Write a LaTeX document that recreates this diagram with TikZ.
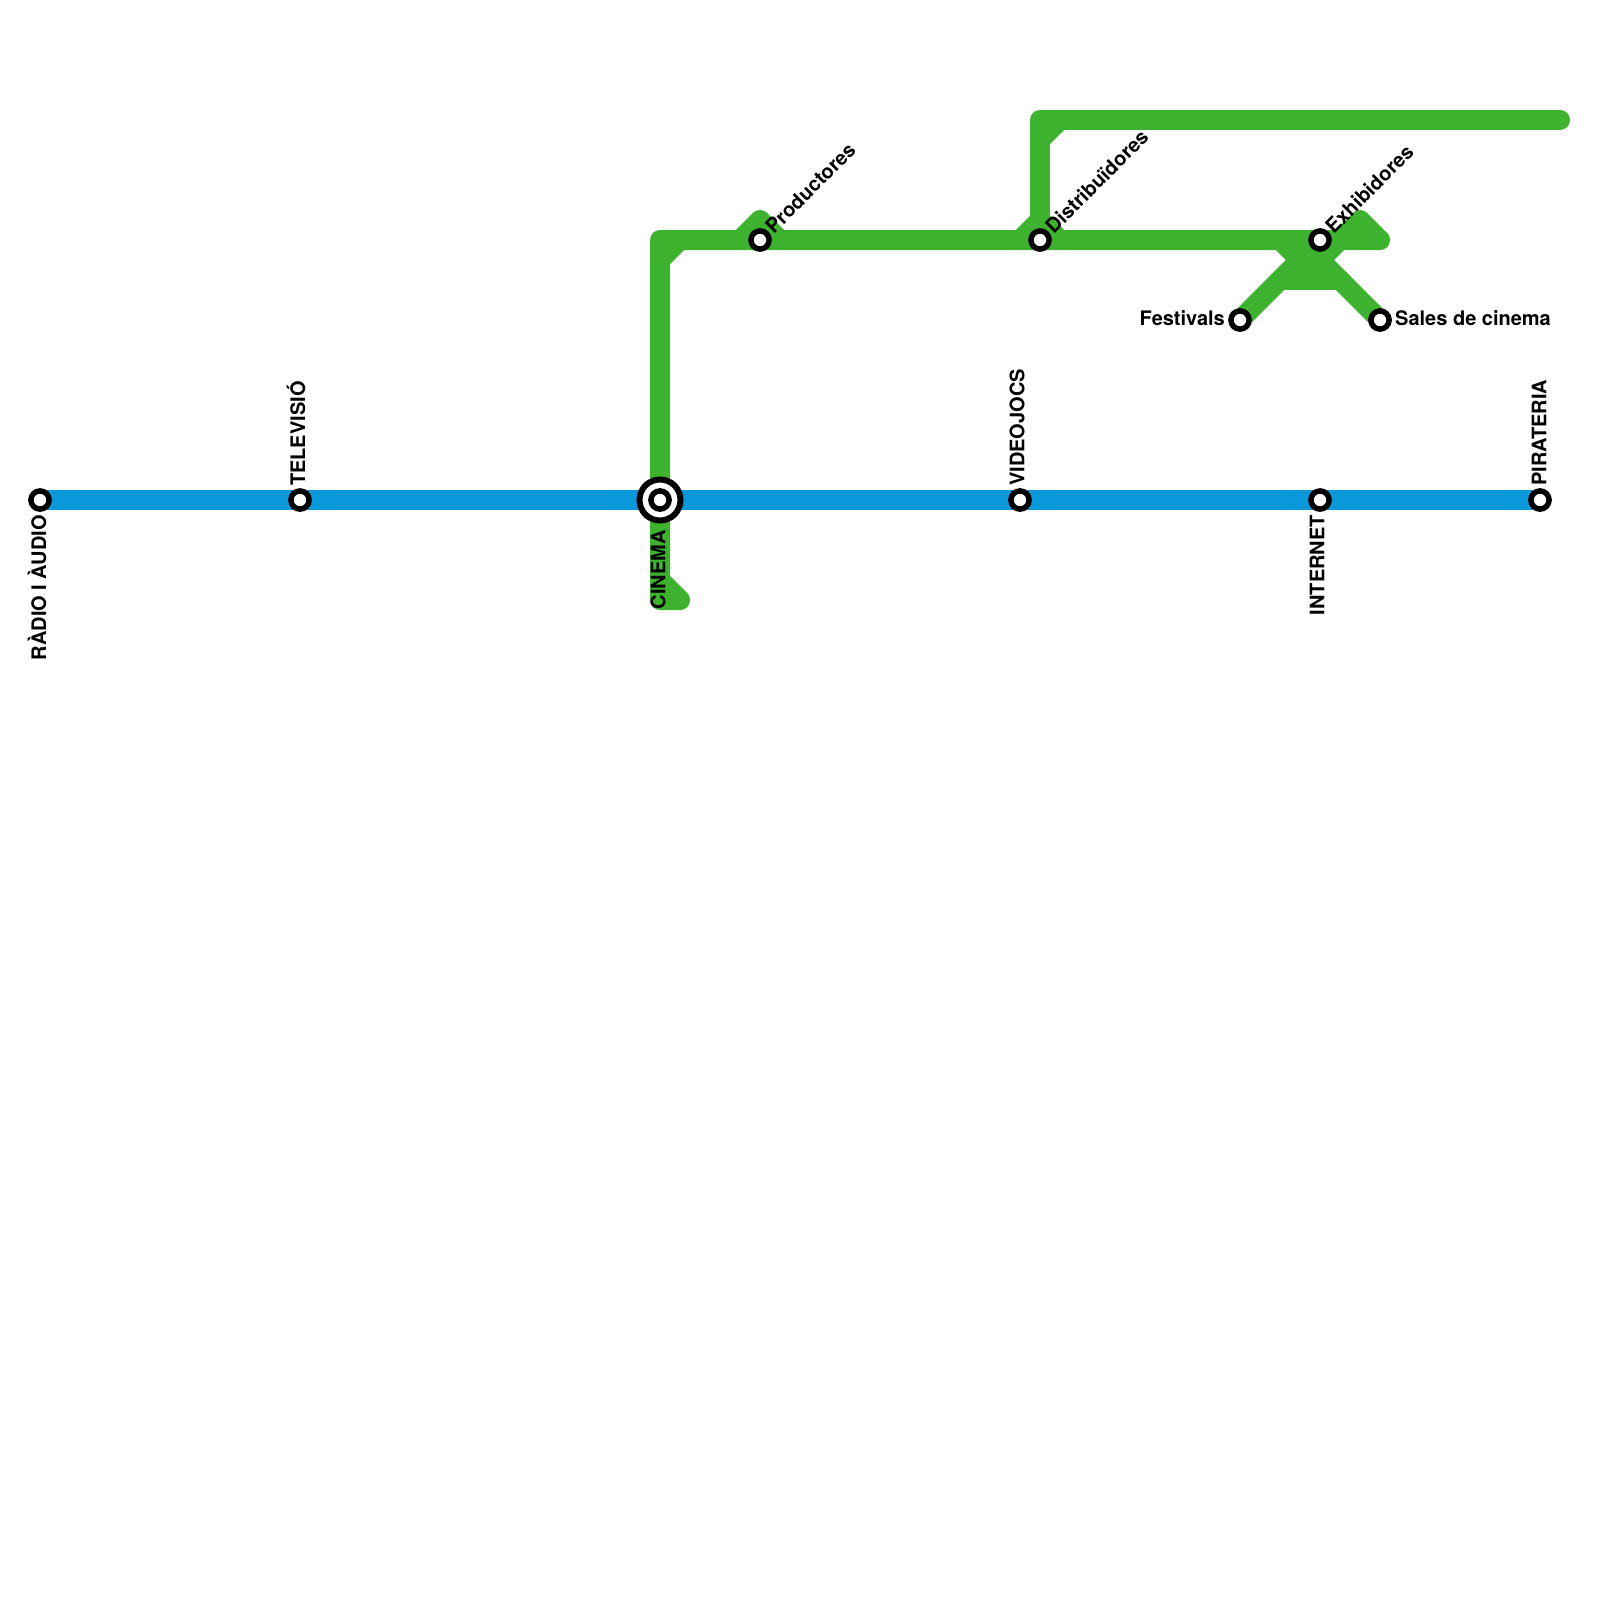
\documentclass[tikz,border=0pt]{standalone}
\usepackage{fontspec}
\setmainfont{TeX Gyre Heros}
\definecolor{lineblue}{HTML}{0A98DA}
\definecolor{linegreen}{HTML}{3DB22F}
\tikzset{
  greenline/.style={draw=linegreen,line width=20pt,line join=round,line cap=round},
  blueline/.style={draw=lineblue,line width=20pt},
  station/.style={circle,draw=black,fill=white,line width=5.5pt,minimum size=18.2pt,inner sep=0pt,outer sep=0pt},
  hub/.style={circle,draw=black,fill=white,line width=6pt,minimum size=41pt,inner sep=0pt,outer sep=0pt},
  lab/.style={font=\fontsize{20}{20}\selectfont\bfseries,inner sep=0pt,text=black}
}
\begin{document}
\begin{tikzpicture}[x=1pt,y=-1pt]
\useasboundingbox (0,0) rectangle (1600,1600);
\fill[white] (0,0) rectangle (1600,1600);
% station positions
\coordinate (radio) at (40,500);
\coordinate (tv) at (300,500);
\coordinate (cinema) at (660,500);
\coordinate (jocs) at (1020,500);
\coordinate (internet) at (1320,500);
\coordinate (pirat) at (1540,500);
\coordinate (prod) at (760,240);
\coordinate (dist) at (1040,240);
\coordinate (exhib) at (1320,240);
\coordinate (fest) at (1240,320);
\coordinate (sales) at (1380,320);
% green network
\draw[greenline] (cinema) -- (660,600) -- (680,600) -- (660,580);
\draw[greenline] (cinema) -- (660,240) -- (prod) -- (dist) -- (exhib) -- (1380,240) -- (1360,220) -- (1340,240);
\draw[greenline] (660,260) -- (680,240);
\draw[greenline] (740,240) -- (760,220) -- (780,240);
\draw[greenline] (1020,240) -- (1040,220) -- (1060,240);
\draw[greenline] (dist) -- (1040,120) -- (1560,120);
\draw[greenline] (1040,140) -- (1060,120);
\draw[greenline] (fest) -- (1280,280) -- (exhib);
\draw[greenline] (sales) -- (1340,280) -- (1300,240);
\draw[greenline] (1280,280) -- (1340,280);
\draw[greenline] (1280,240) -- (1320,280);
\draw[greenline] (1340,240) -- (1300,280);
\fill[linegreen] (1360,220) -- (1380,240) -- (1340,240) -- cycle;
% blue line
\draw[blueline] (radio) -- (tv) -- (cinema) -- (jocs) -- (internet) -- (pirat);
% stations
\node[hub] (cinemaouter) at (cinema) {};
\node[station] (cinemainner) at (cinema) {};
\foreach \s in {radio,tv,jocs,internet,pirat,prod,dist,exhib,fest,sales}
  \node[station] (\s st) at (\s) {};
% labels
\node[lab,rotate=90,anchor=east] (lradio) at (37,515) {RÀDIO I ÀUDIO};
\node[lab,rotate=90,anchor=west] (ltv) at (296,486) {TELEVISIÓ};
\node[lab,rotate=90,anchor=east] (lcinema) at (658,530) {CINEMA};
\node[lab,rotate=90,anchor=west] (ljocs) at (1017,486) {VIDEOJOCS};
\node[lab,rotate=90,anchor=east] (linternet) at (1317,515) {INTERNET};
\node[lab,rotate=90,anchor=west] (lpirat) at (1539,486) {PIRATERIA};
\node[lab,rotate=45,anchor=south west] (lprod) at (774,235) {Productores};
\node[lab,rotate=45,anchor=south west] (ldist) at (1054,235) {Distribuïdores};
\node[lab,rotate=45,anchor=south west] (lexhib) at (1334,235) {Exhibidores};
\node[lab,anchor=east] (lfest) at (1225,318) {Festivals};
\node[lab,anchor=west] (lsales) at (1395,318) {Sales de cinema};
\end{tikzpicture}
\end{document}
